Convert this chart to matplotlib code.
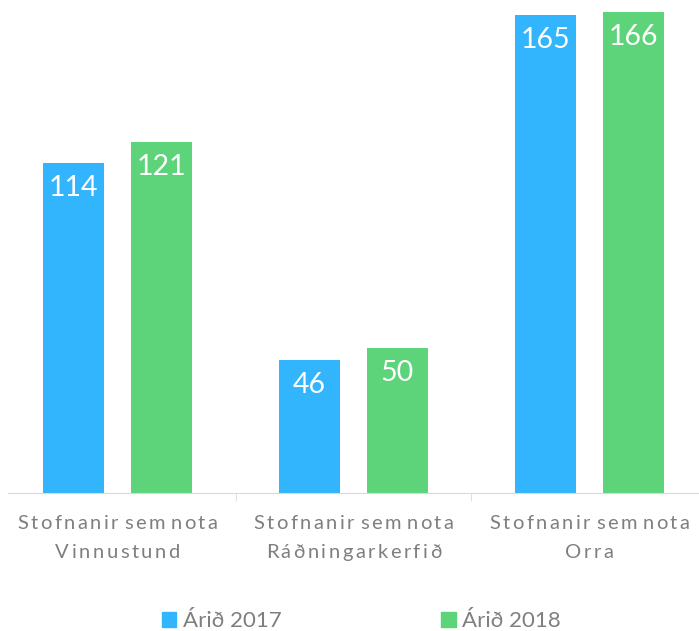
import numpy as np
import matplotlib.pyplot as plt
from matplotlib.patches import Patch
from matplotlib.font_manager import FontProperties, findfont, get_font
from matplotlib.transforms import offset_copy

categories = ['Stofnanir sem nota\nVinnustund', 'Stofnanir sem nota\nRáðningarkerfið', 'Stofnanir sem nota\nOrra']
vals_2017 = [114, 46, 165]
vals_2018 = [121, 50, 166]
series_names = ['Árið 2017', 'Árið 2018']

blue = '#33b5fe'
green = '#5dd37a'
grey = '#7f7f7f'

plt.rcParams['font.family'] = ['Lato', 'DejaVu Sans']

fig = plt.figure(figsize=(6.99, 6.31), dpi=100)
ax = fig.add_axes([8/699, 138/631, 691/699, 493/631])

x = np.arange(len(categories))
w = 0.259
off = 0.186
b1 = ax.bar(x - off, vals_2017, w, color=blue)
b2 = ax.bar(x + off, vals_2018, w, color=green)

for bars in (b1, b2):
    for r in bars:
        ax.annotate(str(int(r.get_height())), (r.get_x() + r.get_width()/2, r.get_height()),
                    xytext=(0, -25), textcoords='offset pixels', ha='center', va='center',
                    color='white', fontsize=20.5)

ax.set_xlim(-0.464, 2.464)
ax.set_ylim(0, 170.1)
for s in ['top', 'right', 'left']:
    ax.spines[s].set_visible(False)
ax.spines['bottom'].set_color('#d9d9d9')
ax.set_yticks([])
ax.set_xticks(x)
ax.set_xticklabels([])
ax.tick_params(axis='x', which='major', length=0)
ax.set_xticks([0.5, 1.5], minor=True)
ax.tick_params(axis='x', which='minor', length=6, color='#d9d9d9')

# letter-spaced category labels (per-glyph placement using advance widths)
fsize = 14.5
fp = FontProperties(family='Lato', size=fsize)
ft = get_font(findfont(fp))
ft.set_size(fsize, 100)
spacing = 2.5

def adv(ch):
    g = ft.load_char(ord(ch))
    w = g.linearHoriAdvance / 65536
    return w * 0.6 if ch == ' ' else w + spacing

for xi, label in zip(x, categories):
    for li, line in enumerate(label.split('\n')):
        widths = [adv(c) for c in line]
        total = sum(widths) - spacing
        cx = -total / 2
        dy = -36 - 29 * li
        for c, wd in zip(line, widths):
            if c != ' ':
                tr = offset_copy(ax.get_xaxis_transform(), fig=fig, x=cx, y=dy, units='dots')
                ax.text(xi, 0, c, transform=tr, ha='left', va='baseline',
                        fontproperties=fp, color=grey, clip_on=False)
            cx += wd

handles = [Patch(color=blue), Patch(color=green)]
fig.legend(handles, series_names, loc='center', bbox_to_anchor=(0.517, 1 - 621/631),
           ncol=2, frameon=False, handlelength=0.65, handleheight=0.65, handletextpad=0.3,
           columnspacing=7.2, fontsize=16, labelcolor=grey)

fig.savefig('out.png', dpi=100)
